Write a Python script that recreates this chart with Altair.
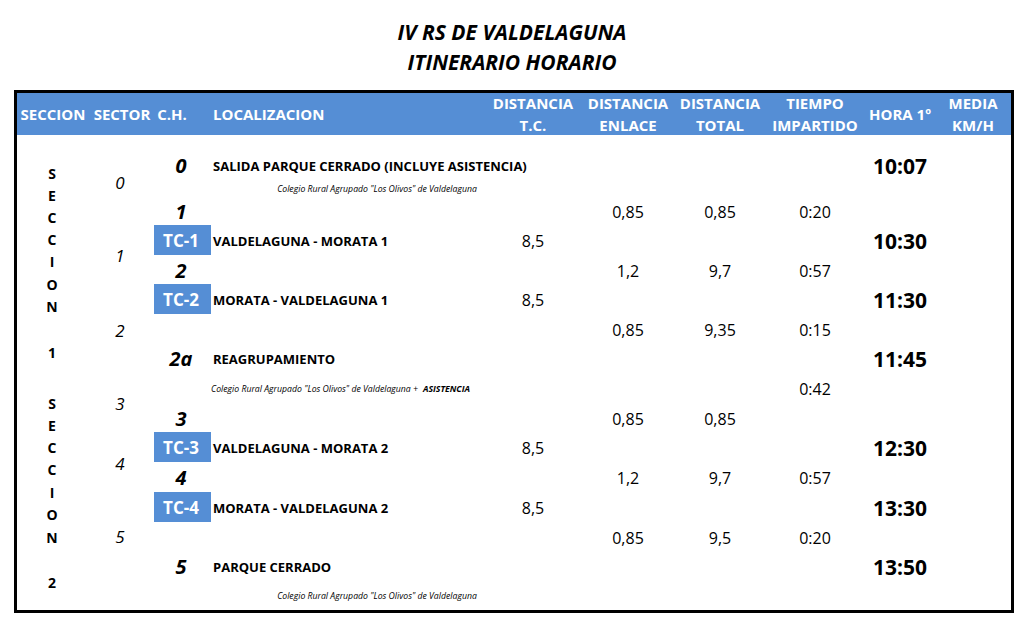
import altair as alt
import pandas as pd

FONT = "Open Sans"
BLUE = "#558ED5"

# ---------------- content ----------------
TITLE_LINES = ["IV RS DE VALDELAGUNA", "ITINERARIO HORARIO"]

HEADER_SINGLE_KEYS = ["seccion", "sector", "ch", "hora"]
HEADER_SINGLE = ["SECCION", "SECTOR", "C.H.", "HORA 1º"]
HEADER_LOC = "LOCALIZACION"
HEADER_TWO_KEYS = ["dtc", "den", "dto", "tie", "med"]
HEADER_TOP = ["DISTANCIA", "DISTANCIA", "DISTANCIA", "TIEMPO", "MEDIA"]
HEADER_BOTTOM = ["T.C.", "ENLACE", "TOTAL", "IMPARTIDO", "KM/H"]

SECCION_1 = ["S", "E", "C", "C", "I", "O", "N", "1"]
SECCION_2 = ["S", "E", "C", "C", "I", "O", "N", "2"]
SECTORS = ["0", "1", "2", "3", "4", "5"]

CH = ["0", "", "1", "TC-1", "2", "TC-2", "", "2a", "", "3", "TC-3", "4", "TC-4", "", "5", ""]
LOCALIZACION = ["SALIDA PARQUE CERRADO (INCLUYE ASISTENCIA)", "", "", "VALDELAGUNA - MORATA 1", "",
                "MORATA - VALDELAGUNA 1", "", "REAGRUPAMIENTO", "", "", "VALDELAGUNA - MORATA 2", "",
                "MORATA - VALDELAGUNA 2", "", "PARQUE CERRADO", ""]
NOTE_TEXT = 'Colegio Rural Agrupado "Los Olivos" de Valdelaguna'
NOTES = ["", NOTE_TEXT, "", "", "", "", "", "", NOTE_TEXT + " +", "", "", "", "", "", "", NOTE_TEXT]
NOTES_BOLD = ["", "", "", "", "", "", "", "", "ASISTENCIA", "", "", "", "", "", "", ""]
DIST_TC = ["", "", "", "8,5", "", "8,5", "", "", "", "", "8,5", "", "8,5", "", "", ""]
DIST_ENLACE = ["", "", "0,85", "", "1,2", "", "0,85", "", "", "0,85", "", "1,2", "", "0,85", "", ""]
DIST_TOTAL = ["", "", "0,85", "", "9,7", "", "9,35", "", "", "0,85", "", "9,7", "", "9,5", "", ""]
TIEMPO = ["", "", "0:20", "", "0:57", "", "0:15", "", "0:42", "", "", "0:57", "", "0:20", "", ""]
HORA = ["10:07", "", "", "10:30", "", "11:30", "", "11:45", "", "", "12:30", "", "13:30", "", "13:50", ""]

# ---------------- layout (pixel positions of the sheet grid) ----------------
ROW_Y = [165, 188, 211, 240, 270, 299, 329, 358, 388, 418, 447, 477, 507, 537, 566, 595]
SECCION_Y1 = [173, 195, 217, 239, 261, 284, 306, 352]
SECCION_Y2 = [403, 425, 447, 469, 492, 514, 537, 582]
SECTOR_Y = [182, 255, 330, 403, 463, 536]
COL_X = {"seccion": 52, "sector": 120, "ch": 181, "loc": 213, "dtc": 533, "den": 628,
         "dto": 720, "tie": 815, "hora": 900, "med": 973, "note": 377,
         "note_r": 418, "note_b": 423}
HEAD_X = {"seccion": 53, "sector": 122, "ch": 172, "loc": 213, "dtc": 533, "den": 628,
          "dto": 720, "tie": 815, "hora": 900, "med": 973}
HEAD_Y1, HEAD_Y2, HEAD_YM = 102, 124, 113
TITLE_X, TITLE_Y = 512, [31, 61]
FRAME = dict(x0=15.5, x1=1012.5, y0=91.5, y1=611.5)
HEADBAND = dict(x0=16, x1=1012, y0=92, y1=135)
TC_BOX = dict(x0=154, x1=211, half=15)

W, H = 1008, 608
xs = alt.Scale(domain=[8, 8 + W], nice=False, zero=False)
ys = alt.Scale(domain=[8, 8 + H], nice=False, zero=False, reverse=True)
X = alt.X("x:Q", scale=xs, axis=None)
Y = alt.Y("y:Q", scale=ys, axis=None)


def recs(texts, xs_, ys_):
    return pd.DataFrame([{"text": t, "x": x, "y": y} for t, x, y in zip(texts, xs_, ys_) if t != ""])


def text_layer(df, **kw):
    opts = dict(font=FONT, baseline="middle", align="center", color="black")
    opts.update(kw)
    opts.setdefault("dy", round(0.12 * opts.get("fontSize", 12), 1))
    return alt.Chart(df).mark_text(**opts).encode(x=X, y=Y, text="text:N")


def col(texts, key):
    return recs(texts, [COL_X[key]] * len(texts), ROW_Y)


layers = []

# header band and frame
band = pd.DataFrame([{"x": HEADBAND["x0"], "x2": HEADBAND["x1"], "y": HEADBAND["y0"], "y2": HEADBAND["y1"]}])
layers.append(alt.Chart(band).mark_rect(color=BLUE).encode(x=X, x2="x2:Q", y=Y, y2="y2:Q"))
frame = pd.DataFrame([{"x": FRAME["x0"], "x2": FRAME["x1"], "y": FRAME["y0"], "y2": FRAME["y1"]}])
layers.append(alt.Chart(frame).mark_rect(filled=False, stroke="black", strokeWidth=3)
              .encode(x=X, x2="x2:Q", y=Y, y2="y2:Q"))

# TC boxes
tc = [(t, y) for t, y in zip(CH, ROW_Y) if t.startswith("TC")]
boxes = pd.DataFrame([{"x": TC_BOX["x0"], "x2": TC_BOX["x1"], "y": y - TC_BOX["half"], "y2": y + TC_BOX["half"]}
                      for _, y in tc])
layers.append(alt.Chart(boxes).mark_rect(color=BLUE).encode(x=X, x2="x2:Q", y=Y, y2="y2:Q"))

# title
layers.append(text_layer(recs(TITLE_LINES, [TITLE_X] * 2, TITLE_Y), fontSize=21, fontWeight="bold",
                         fontStyle="italic"))

# header
layers.append(text_layer(recs(HEADER_SINGLE, [HEAD_X[k] for k in HEADER_SINGLE_KEYS], [HEAD_YM] * 4),
                         fontSize=15, fontWeight="bold", color="white"))
layers.append(text_layer(recs([HEADER_LOC], [HEAD_X["loc"]], [HEAD_YM]), fontSize=15, fontWeight="bold",
                         color="white", align="left"))
layers.append(text_layer(recs(HEADER_TOP, [HEAD_X[k] for k in HEADER_TWO_KEYS], [HEAD_Y1] * 5),
                         fontSize=15, fontWeight="bold", color="white"))
layers.append(text_layer(recs(HEADER_BOTTOM, [HEAD_X[k] for k in HEADER_TWO_KEYS], [HEAD_Y2] * 5),
                         fontSize=15, fontWeight="bold", color="white"))

# seccion letters
layers.append(text_layer(recs(SECCION_1 + SECCION_2, [COL_X["seccion"]] * 16, SECCION_Y1 + SECCION_Y2),
                         fontSize=14, fontWeight="bold"))
# sectors
layers.append(text_layer(recs(SECTORS, [COL_X["sector"]] * 6, SECTOR_Y), fontSize=17, fontStyle="italic"))
# control points
ch_plain = [c if not c.startswith("TC") else "" for c in CH]
ch_tc = [c if c.startswith("TC") else "" for c in CH]
layers.append(text_layer(col(ch_plain, "ch"), fontSize=20, fontWeight="bold", fontStyle="italic"))
layers.append(text_layer(col(ch_tc, "ch"), fontSize=17, fontWeight="bold", color="white"))
# localizacion
layers.append(text_layer(col(LOCALIZACION, "loc"), fontSize=13, fontWeight="bold", align="left"))
# notes
note_center = [n if (n and not NOTES_BOLD[i]) else "" for i, n in enumerate(NOTES)]
note_right = [n if NOTES_BOLD[i] else "" for i, n in enumerate(NOTES)]
layers.append(text_layer(col(note_center, "note"), fontSize=8.7, fontStyle="italic"))
layers.append(text_layer(col(note_right, "note_r"), fontSize=8.7, fontStyle="italic", align="right"))
layers.append(text_layer(col(NOTES_BOLD, "note_b"), fontSize=8.7, fontStyle="italic", fontWeight="bold",
                         align="left"))
# numbers
for arr, key in [(DIST_TC, "dtc"), (DIST_ENLACE, "den"), (DIST_TOTAL, "dto"), (TIEMPO, "tie")]:
    layers.append(text_layer(col(arr, key), fontSize=16))
layers.append(text_layer(col(HORA, "hora"), fontSize=21, fontWeight="bold"))

chart = alt.layer(*layers).properties(
    width=W, height=H,
    autosize=alt.AutoSizeParams(type="fit", contains="padding"),
    padding=0, background="white",
).configure_view(stroke=None)

chart.save("out.html", embed_options={"renderer": "svg", "actions": False})
